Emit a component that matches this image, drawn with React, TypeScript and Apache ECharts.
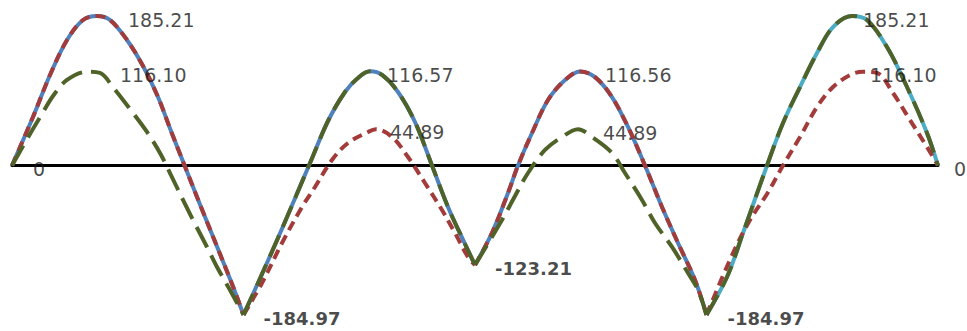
import React, { useEffect, useRef } from "react";
import * as echarts from "echarts";

// Bending moment diagrams along a 4-span beam (x: position, each span = 10)
const fullSpan1: [number, number][] = [
  [0, 0], [0.907, 60.1], [1.642, 112.1], [2.376, 155.4], [3.067, 180.2], [3.672, 185.21], [4.233, 180.2],
  [4.968, 155.4], [5.659, 123.2], [6.307, 84.8], [6.868, 42.7], [7.455, 0], [8.121, -48.3], [8.855, -100.3],
  [9.546, -149.8], [10, -184.97],
];
const fullSpan2: [number, number][] = [
  [10, -184.97], [10.626, -145.5], [11.49, -89.8], [12.268, -37.8], [13.002, 11.8], [13.65, 55.1], [14.384, 91.0],
  [14.946, 108.4], [15.464, 116.57], [15.983, 112.1], [16.674, 91.0], [17.408, 53.9], [18.143, 0], [18.834, -51.4],
  [19.568, -97.2], [20, -123.21],
];
const fullSpan3: [number, number][] = [
  [20, -123.21], [20.734, -83.5], [21.425, -34.1], [21.857, 0], [22.462, 40.2], [23.153, 81.1], [23.888, 105.8],
  [24.536, 116.56], [25.184, 109.5], [25.918, 84.8], [26.609, 47.7], [27.343, 0], [28.078, -51.4], [28.769, -96.0],
  [29.503, -141.8], [30, -184.97],
];
const fullSpan4: [number, number][] = [
  [30, -184.97], [30.886, -138.1], [31.577, -83.6], [32.613, 0], [33.305, 52.6], [34.039, 97.2], [34.773, 139.3],
  [35.464, 171.5], [36.285, 185.21], [36.933, 180.2], [37.797, 146.7], [38.661, 97.2], [39.525, 40.2], [40, 0],
];
const redSpan2: [number, number][] = [
  [10, -184.97], [10.799, -145.5], [11.663, -96.0], [12.527, -51.4], [13.089, -26.6], [13.823, 6.8], [14.514, 27.9],
  [15.378, 41.5], [15.724, 44.89], [16.415, 35.3], [17.106, 10.5], [17.84, -21.7], [18.575, -55.1], [19.136, -83.6],
  [19.698, -113.3], [20, -123.21],
];
const redSpan4: [number, number][] = [
  [30, -184.97], [31.145, -108.4], [31.879, -67.5], [32.613, -35.3], [33.305, 0], [34.039, 35.3], [34.773, 72.4],
  [35.464, 97.2], [36.199, 112.1], [36.76, 116.1], [37.365, 114.6], [38.056, 89.8], [38.79, 56.3], [39.525, 22.9],
  [40, 0],
];
const greenSpan1: [number, number][] = [
  [0, 0], [0.778, 39.0], [1.296, 63.8], [1.771, 86.1], [2.376, 105.9], [3.24, 116.1], [3.801, 114.6], [4.363, 97.0],
  [5.227, 65.0], [5.832, 41.5], [6.393, 15.5], [6.825, -9.3], [7.387, -42.7], [7.819, -67.5], [8.423, -100.9],
  [8.855, -125.7], [9.417, -154.2], [10, -184.97],
];
const greenSpan3: [number, number][] = [
  [20, -123.21], [21.166, -67.5], [21.728, -37.8], [22.289, -9.3], [23.024, 19.2], [23.758, 35.3], [24.449, 44.89],
  [25.054, 35.3], [25.918, 15.5], [26.479, -9.3], [27.214, -42.7], [27.775, -71.2], [28.51, -100.9], [29.201, -133.1],
  [29.633, -154.2], [30, -184.97],
];
// labelled extreme values
const labelPoints: [number, number][] = [
  [3.672, 185.21], [3.24, 116.1], [15.464, 116.57], [15.724, 44.89], [24.536, 116.56], [24.449, 44.89],
  [36.285, 185.21], [36.76, 116.1], [10, -184.97], [20, -123.21], [30, -184.97], [0, 0], [40, 0],
];
const labelOffsets: [number, number][] = [
  [31, 4], [33, 3], [17, 4], [14, 3], [25, 4], [25, 4], [11, 4], [7, 3], [20, 4], [20, 4], [21, 4], [21, 3], [16, 3],
];

const BLUE = "#4F81BD";
const AQUA = "#4BACC6";
const RED = "#A33B3B";
const GREEN = "#4F6228";

export default function App() {
  const ref = useRef<HTMLDivElement>(null);
  useEffect(() => {
    document.body.style.margin = "0";
    const chart = echarts.init(ref.current!, null, { renderer: "svg" });
    const seg = (data: [number, number][], color: string, type: any, z: number) => ({
      type: "line", data, smooth: 0.35, showSymbol: false, z,
      lineStyle: { color, width: 4, type },
    });
    chart.setOption({
      animation: false,
      backgroundColor: "#ffffff",
      grid: { left: 12, right: 29, top: 4, bottom: 4 },
      xAxis: {
        type: "value", min: 0, max: 40,
        axisLine: { show: true, onZero: true, lineStyle: { color: "#000", width: 3 } },
        axisTick: { show: false }, axisLabel: { show: false }, splitLine: { show: false },
      },
      yAxis: {
        type: "value", min: -200, max: 200,
        axisLine: { show: false }, axisTick: { show: false }, axisLabel: { show: false }, splitLine: { show: false },
      },
      series: [
        seg(fullSpan1, BLUE, "solid", 2),
        seg(fullSpan2, BLUE, "solid", 2),
        seg(fullSpan3, BLUE, "solid", 2),
        seg(fullSpan4, AQUA, "solid", 2),
        seg(fullSpan1, RED, [10, 6], 3),
        seg(redSpan2, RED, [10, 6], 3),
        seg(fullSpan3, RED, [10, 6], 3),
        seg(redSpan4, RED, [10, 6], 3),
        seg(greenSpan1, GREEN, [23, 9], 4),
        seg(fullSpan2, GREEN, [23, 9], 4),
        seg(greenSpan3, GREEN, [23, 9], 4),
        seg(fullSpan4, GREEN, [23, 9], 4),
        {
          type: "scatter", symbolSize: 0, z: 5,
          data: labelPoints.map((p, i) => ({
            value: p,
            label: {
              show: true, position: "inside", align: "left", verticalAlign: "middle",
              offset: labelOffsets[i],
              fontFamily: "DejaVu Sans",
              fontSize: p[1] < 0 ? 18 : 19,
              fontWeight: p[1] < 0 ? "bold" : "normal",
              color: "#1a1a1a",
              formatter: () => (p[1] === 0 ? "0" : p[1].toFixed(2)),
            },
          })),
        },
      ],
    });
    return () => chart.dispose();
  }, []);
  return <div ref={ref} style={{ width: 967, height: 331 }} />;
}
